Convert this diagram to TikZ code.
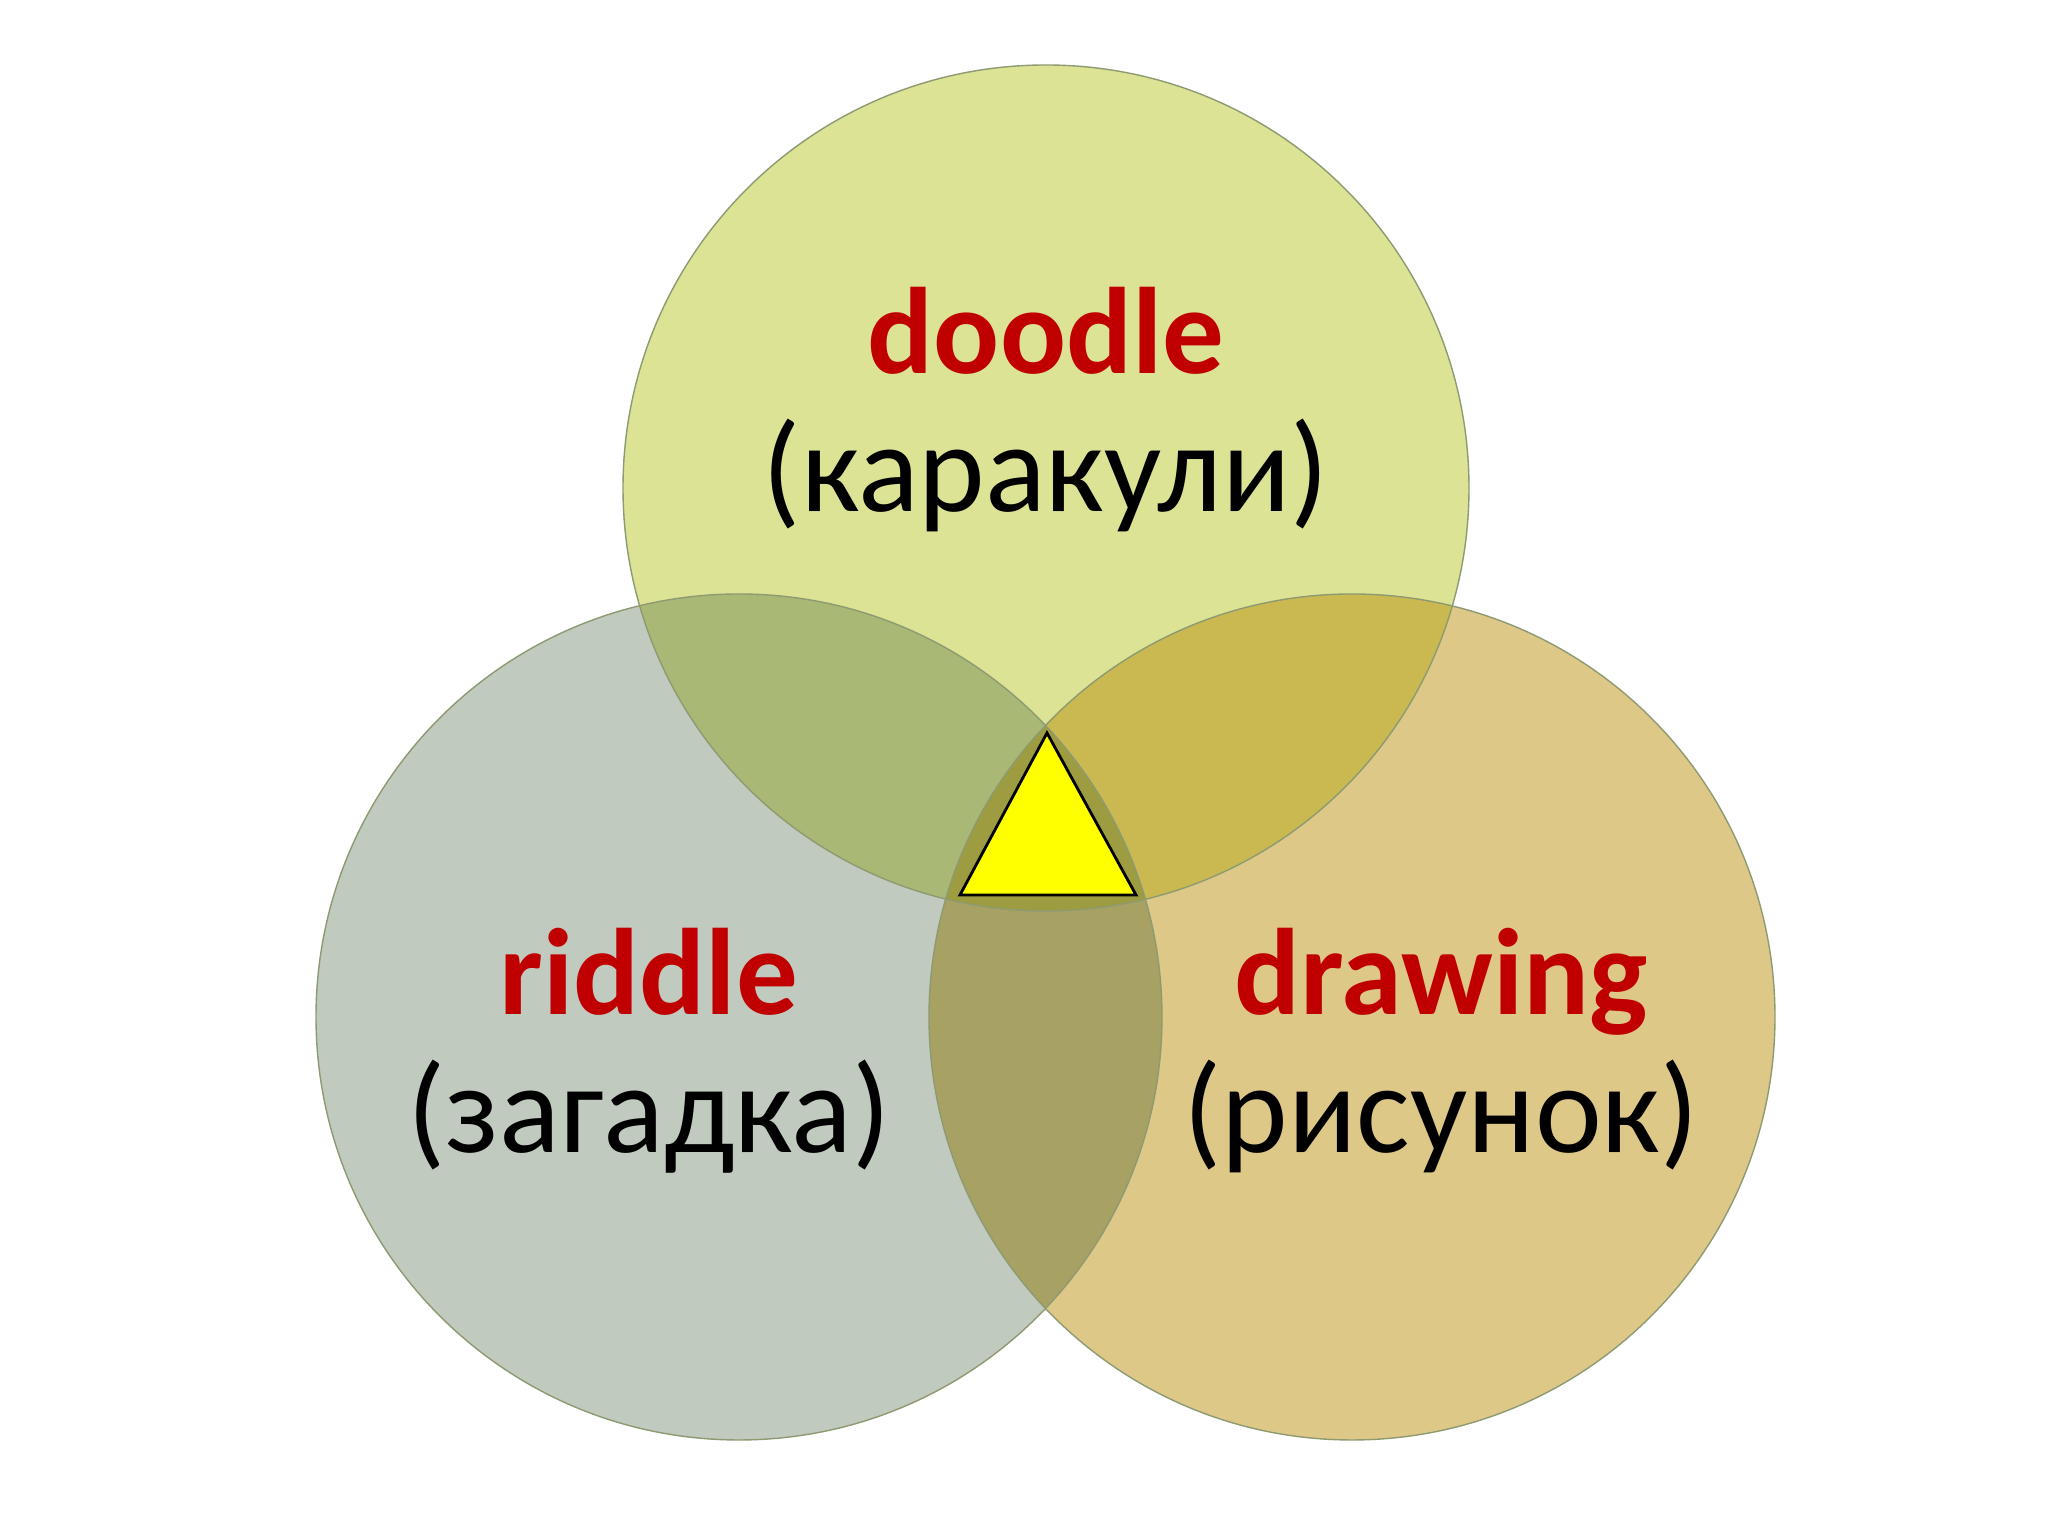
\documentclass[tikz,border=0pt]{standalone}
\usepackage{fontspec}
\setmainfont{Carlito}
\usepackage{xcolor}

\definecolor{doodlefill}{HTML}{DCE394}
\definecolor{riddlefill}{HTML}{C0CABE}
\definecolor{drawingfill}{HTML}{DEC888}
\definecolor{tlfill}{HTML}{A9B875}
\definecolor{trfill}{HTML}{C9B950}
\definecolor{lrfill}{HTML}{A8A164}
\definecolor{allfill}{HTML}{9E9C40}
\definecolor{ringline}{HTML}{8E9A72}
\definecolor{wordred}{HTML}{C00000}
\definecolor{trianglefill}{HTML}{FFFF00}

\begin{document}
\begin{tikzpicture}[
  ring/.style={draw=ringline, line width=0.4pt},
  word/.style={text=wordred, font=\fontsize{35}{40}\selectfont\bfseries, anchor=base},
  gloss/.style={text=black, font=\fontsize{36}{40}\selectfont, anchor=base}]

\useasboundingbox (0,0) rectangle (20.48,15.36);

\coordinate (ct) at (10.46,10.48);
\coordinate (cl) at (7.39,5.19);
\coordinate (cr) at (13.52,5.19);

\fill[riddlefill] (cl) circle (4.23);
\fill[drawingfill] (cr) circle (4.23);
\fill[doodlefill] (ct) circle (4.23);

\begin{scope}
\clip (ct) circle (4.23);
\fill[tlfill] (cl) circle (4.23);
\fill[trfill] (cr) circle (4.23);
\end{scope}
\begin{scope}
\clip (cl) circle (4.23);
\fill[lrfill] (cr) circle (4.23);
\clip (cr) circle (4.23);
\fill[allfill] (ct) circle (4.23);
\end{scope}

\draw[ring] (cl) circle (4.23);
\draw[ring] (cr) circle (4.23);
\draw[ring] (ct) circle (4.23);

\coordinate (apex) at (10.47,8.03);
\coordinate (baseL) at (9.60,6.41);
\coordinate (baseR) at (11.36,6.41);
\draw[fill=trianglefill, line width=0.8pt, line join=miter] (apex) -- (baseL) -- (baseR) -- cycle;

\node[word] (doodle) at (10.46,11.62) {doodle};
\node[gloss] (doodleru) at (10.46,10.24) {(каракули)};
\node[word] (riddle) at (6.49,5.21) {riddle};
\node[gloss] (riddleru) at (6.49,3.83) {(загадка)};
\node[word] (drawing) at (14.41,5.21) {drawing};
\node[gloss] (drawingru) at (14.41,3.83) {(рисунок)};

\end{tikzpicture}
\end{document}
